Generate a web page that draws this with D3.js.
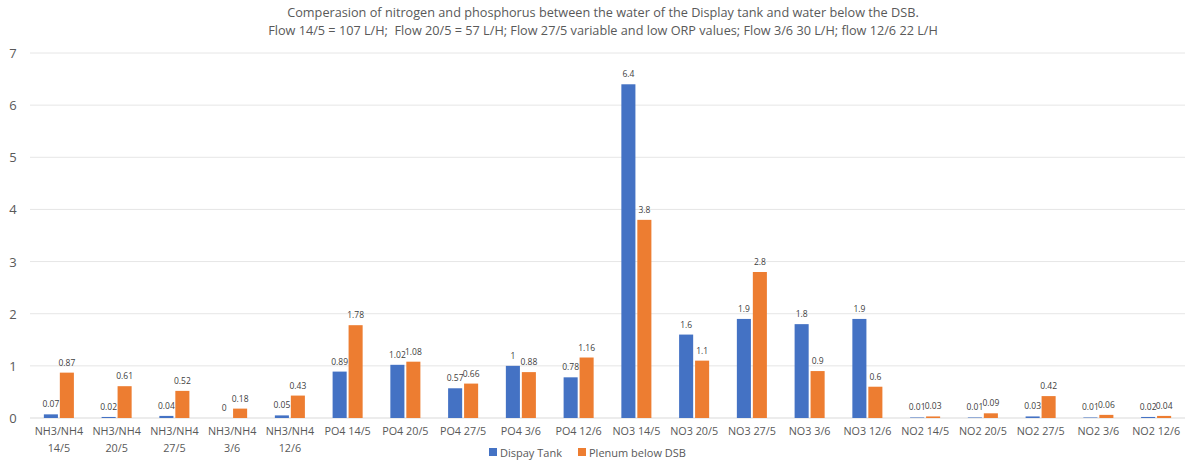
<!DOCTYPE html>
<html>
<head>
<meta charset="utf-8">
<script src="https://cdn.jsdelivr.net/npm/d3@7"></script>
<style>
  body { margin: 0; background: #fff; }
  svg { font-family: "Open Sans", "Noto Sans", sans-serif; }
</style>
</head>
<body>
<div id="chart"></div>
<script>
var width = 1200, height = 469;

var categories = [
  ["NH3/NH4", "14/5"], ["NH3/NH4", "20/5"], ["NH3/NH4", "27/5"], ["NH3/NH4", "3/6"], ["NH3/NH4", "12/6"],
  ["PO4 14/5"], ["PO4 20/5"], ["PO4 27/5"], ["PO4 3/6"], ["PO4 12/6"],
  ["NO3 14/5"], ["NO3 20/5"], ["NO3 27/5"], ["NO3 3/6"], ["NO3 12/6"],
  ["NO2 14/5"], ["NO2 20/5"], ["NO2 27/5"], ["NO2 3/6"], ["NO2 12/6"]
];
var displayTank = [0.07, 0.02, 0.04, 0, 0.05, 0.89, 1.02, 0.57, 1, 0.78, 6.4, 1.6, 1.9, 1.8, 1.9, 0.01, 0.01, 0.03, 0.01, 0.02];
var plenum = [0.87, 0.61, 0.52, 0.18, 0.43, 1.78, 1.08, 0.66, 0.88, 1.16, 3.8, 1.1, 2.8, 0.9, 0.6, 0.03, 0.09, 0.42, 0.06, 0.04];
var seriesNames = ["Dispay Tank", "Plenum below DSB"];
var colors = ["#4472C4", "#ED7D31"];
var yTicks = [0, 1, 2, 3, 4, 5, 6, 7];
var titleLines = [
  "Comperasion of nitrogen and phosphorus between the water of the Display tank and water below the DSB.",
  "Flow 14/5 = 107 L/H;  Flow 20/5 = 57 L/H; Flow 27/5 variable and low ORP values; Flow 3/6 30 L/H; flow 12/6 22 L/H"
];

var margin = {left: 30, right: 15, top: 53, bottom: 51};

var svg = d3.select("#chart").append("svg")
  .attr("width", width)
  .attr("height", height);

var x = d3.scaleBand()
  .domain(d3.range(categories.length))
  .range([margin.left, width - margin.right])
  .paddingInner(0.48)
  .paddingOuter(0.24);

var xs = d3.scaleBand()
  .domain([0, 1])
  .range([0, x.bandwidth()])
  .paddingInner(0.12);

var y = d3.scaleLinear()
  .domain([0, 7])
  .range([height - margin.bottom, margin.top]);

// gridlines
svg.append("g")
  .selectAll("line")
  .data(yTicks)
  .enter().append("line")
  .attr("x1", margin.left)
  .attr("x2", width - margin.right)
  .attr("y1", function(d) { return y(d); })
  .attr("y2", function(d) { return y(d); })
  .attr("stroke", function(d) { return d === 0 ? "#d9d9d9" : "#e6e6e6"; })
  .attr("stroke-width", 1);

// y labels
svg.append("g")
  .selectAll("text")
  .data(yTicks)
  .enter().append("text")
  .attr("x", 13)
  .attr("y", function(d) { return y(d) + 5; })
  .attr("text-anchor", "middle")
  .attr("font-size", 13)
  .attr("fill", "#595959")
  .text(function(d) { return d; });

var series = [displayTank, plenum];
series.forEach(function(vals, s) {
  var g = svg.append("g");
  g.selectAll("rect")
    .data(vals)
    .enter().append("rect")
    .attr("x", function(d, i) { return x(i) + xs(s); })
    .attr("width", xs.bandwidth())
    .attr("y", function(d) { return y(d); })
    .attr("height", function(d) { return y(0) - y(d); })
    .attr("fill", colors[s]);
  g.selectAll("text")
    .data(vals)
    .enter().append("text")
    .attr("x", function(d, i) { return x(i) + xs(s) + xs.bandwidth() / 2; })
    .attr("y", function(d) { return y(d) - 7; })
    .attr("text-anchor", "middle")
    .attr("font-size", 8.5)
    .attr("fill", "#404040")
    .text(function(d) { return d; });
});

// x labels
svg.append("g")
  .selectAll("text")
  .data(categories)
  .enter().append("text")
  .attr("x", function(d, i) { return x(i) + x.bandwidth() / 2; })
  .attr("y", y(0) + 17)
  .attr("text-anchor", "middle")
  .attr("font-size", 10.8)
  .attr("fill", "#595959")
  .each(function(d) {
    var t = d3.select(this);
    d.forEach(function(line, k) {
      t.append("tspan")
        .attr("x", t.attr("x"))
        .attr("dy", k === 0 ? 0 : 16.5)
        .text(line);
    });
  });

// title
svg.append("g")
  .selectAll("text")
  .data(titleLines)
  .enter().append("text")
  .attr("x", 603)
  .attr("y", function(d, i) { return 17 + i * 18; })
  .attr("text-anchor", "middle")
  .attr("font-size", 12.7)
  .attr("fill", "#595959")
  .style("white-space", "pre")
  .text(function(d) { return d; });

// legend
var legend = svg.append("g").attr("transform", "translate(489,448)");
var lx = [0, 89];
seriesNames.forEach(function(name, i) {
  legend.append("rect")
    .attr("x", lx[i])
    .attr("y", 0)
    .attr("width", 8)
    .attr("height", 8)
    .attr("fill", colors[i]);
  legend.append("text")
    .attr("x", lx[i] + 11)
    .attr("y", 8.5)
    .attr("font-size", 11)
    .attr("fill", "#595959")
    .text(name);
});
</script>
</body>
</html>
